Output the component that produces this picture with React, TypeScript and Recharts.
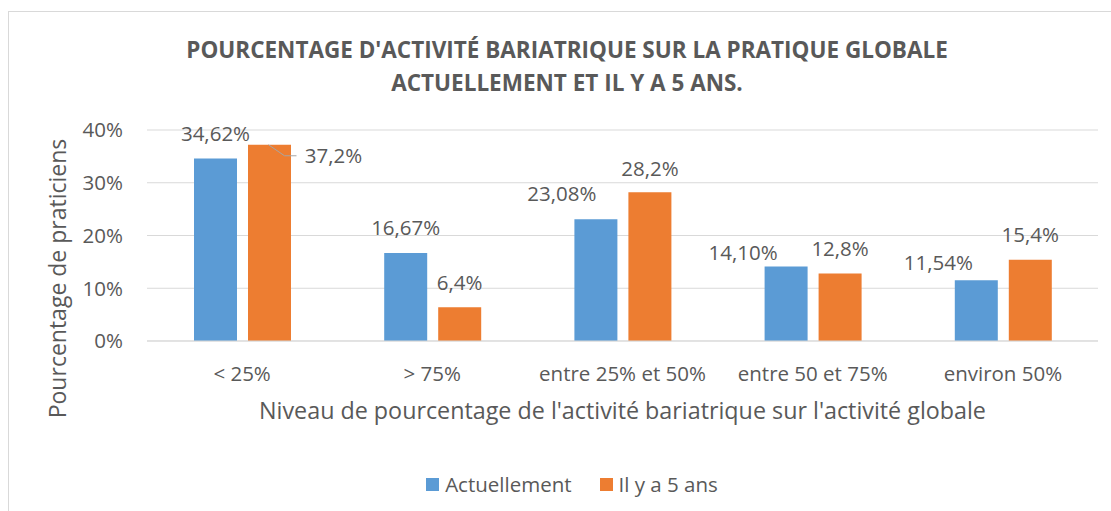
import React from 'react';
import { BarChart, Bar, XAxis, YAxis, CartesianGrid, Legend, LabelList } from 'recharts';

const categories = ['< 25%', '> 75%', 'entre 25% et 50%', 'entre 50 et 75%', 'environ 50%'];
const actuellement = [34.62, 16.67, 23.08, 14.1, 11.54];
const ilYa5Ans = [37.2, 6.4, 28.2, 12.8, 15.4];
const yTicks = [0, 10, 20, 30, 40];
const seriesNames = ['Actuellement', 'Il y a 5 ans'];
const titleLines = [
  "POURCENTAGE D'ACTIVITÉ BARIATRIQUE SUR LA PRATIQUE GLOBALE",
  'ACTUELLEMENT ET IL Y A 5 ANS.',
];
const xAxisTitle = "Niveau de pourcentage de l'activité bariatrique sur l'activité globale";
const yAxisTitle = 'Pourcentage de praticiens';

// style: label offsets (dx, dy) relative to bar top centre
const labelOffsetsA = [[0, -25], [0, -25], [-34, -26], [-43, -14], [-38, -18]];
const labelOffsetsB = [[64, 11], [0, -25], [0, -24], [0, -25], [0, -25]];

const BLUE = '#5B9BD5';
const ORANGE = '#ED7D31';
const TEXT = '#595959';
const GRID = '#D9D9D9';
const FONT = "'Open Sans', sans-serif";

const fmt = (v: number, d: number) => v.toFixed(d).replace('.', ',') + '%';

const makeLabel = (offsets: number[][], decimals: number, leaderIndex: number) => (props: any) => {
  const { x, y, width, value, index } = props;
  const cx = Number(x) + Number(width) / 2;
  const top = Number(y);
  const [dx, dy] = offsets[index] || [0, -25];
  return (
    <g key={`lbl-${index}`}>
      {index === leaderIndex && (
        <polyline
          points={`${cx - 1},${top} ${cx + 15},${top + 11} ${cx + 27},${top + 11}`}
          fill="none"
          stroke="#A6A6A6"
          strokeWidth={1}
        />
      )}
      <text
        x={cx + dx}
        y={top + dy}
        dy="0.36em"
        textAnchor="middle"
        fill={TEXT}
        fontSize={20.5}
        fontFamily={FONT}
      >
        {fmt(Number(value), decimals)}
      </text>
    </g>
  );
};

const renderXTitle = (props: any) => {
  const vb = props.viewBox || {};
  return (
    <text
      x={vb.x + vb.width / 2}
      y={vb.y + 70}
      dy="0.357em"
      textAnchor="middle"
      fill={TEXT}
      fontSize={23.3}
      fontFamily={FONT}
    >
      {xAxisTitle}
    </text>
  );
};

const renderYTitle = (props: any) => {
  const vb = props.viewBox || {};
  const cx = vb.x + 58;
  const cy = vb.y + vb.height / 2 + 43;
  return (
    <text
      x={cx}
      y={cy}
      dy="0.357em"
      textAnchor="middle"
      fill={TEXT}
      fontSize={23}
      fontFamily={FONT}
      transform={`rotate(-90, ${cx}, ${cy})`}
    >
      {yAxisTitle}
    </text>
  );
};

const renderLegend = (props: any) => {
  const payload = props.payload || [];
  return (
    <div
      style={{
        display: 'flex',
        justifyContent: 'center',
        alignItems: 'center',
        height: 28,
        fontSize: 20.5,
        color: TEXT,
        fontFamily: FONT,
      }}
    >
      {payload.map((p: any, i: number) => (
        <div key={p.value} style={{ display: 'flex', alignItems: 'center', marginLeft: i ? 28 : 0 }}>
          <span style={{ width: 13, height: 13, background: p.color, marginRight: 6, display: 'inline-block' }} />
          <span>{p.value}</span>
        </div>
      ))}
    </div>
  );
};

export default function App() {
  const data = categories.map((c, i) => ({ cat: c, a: actuellement[i], b: ilYa5Ans[i] }));
  return (
    <div
      style={{
        position: 'fixed',
        left: 0,
        top: 0,
        width: 1111,
        height: 511,
        overflow: 'hidden',
        background: '#fff',
        fontFamily: FONT,
      }}
    >
      <div
        style={{
          position: 'absolute',
          left: 8,
          top: 11,
          width: 1200,
          height: 600,
          border: `1px solid ${GRID}`,
        }}
      />
      <div
        style={{
          position: 'absolute',
          left: 67,
          top: 33,
          width: 1000,
          textAlign: 'center',
          fontWeight: 700,
          fontSize: 22.5,
          lineHeight: '33px',
          color: TEXT,
          fontFamily: FONT,
          whiteSpace: 'nowrap',
        }}
      >
        {titleLines.map((l) => (
          <div key={l}>{l}</div>
        ))}
      </div>
      <div style={{ position: 'absolute', left: 0, top: 0 }}>
        <BarChart
          width={1111}
          height={511}
          data={data}
          margin={{ top: 130, right: 13, bottom: 0, left: 0 }}
          barGap={11}
          barSize={43}
        >
          <CartesianGrid vertical={false} stroke={GRID} strokeWidth={1} />
          <XAxis
            dataKey="cat"
            height={170}
            interval={0}
            tickLine={false}
            tickSize={0}
            tickMargin={25}
            axisLine={{ stroke: GRID }}
            tick={{ fill: TEXT, fontSize: 20.5, fontFamily: FONT }}
            label={{ content: renderXTitle, value: xAxisTitle }}
          />
          <YAxis
            width={147}
            domain={[0, 40]}
            ticks={yTicks}
            tickFormatter={(v: number) => `${v}%`}
            axisLine={false}
            tickLine={false}
            tickSize={0}
            tickMargin={24}
            tick={{ fill: TEXT, fontSize: 20.5, fontFamily: FONT }}
            label={{ content: renderYTitle, value: yAxisTitle }}
          />
          <Legend
            verticalAlign="middle"
            layout="horizontal"
            align="center"
            wrapperStyle={{ position: 'absolute', left: 0, top: 470, width: 1144 }}
            content={renderLegend}
          />
          <Bar dataKey="a" name={seriesNames[0]} fill={BLUE} isAnimationActive={false}>
            <LabelList dataKey="a" content={makeLabel(labelOffsetsA, 2, -1)} />
          </Bar>
          <Bar dataKey="b" name={seriesNames[1]} fill={ORANGE} isAnimationActive={false}>
            <LabelList dataKey="b" content={makeLabel(labelOffsetsB, 1, 0)} />
          </Bar>
        </BarChart>
      </div>
    </div>
  );
}
